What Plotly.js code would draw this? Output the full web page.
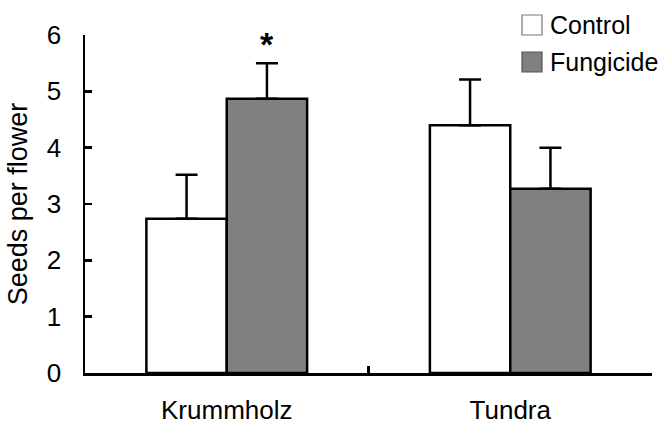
<!DOCTYPE html>
<html>
<head>
<meta charset="utf-8">
<script src="https://cdn.plot.ly/plotly-3.0.1.min.js"></script>
<style>html,body{margin:0;padding:0;background:#fff}#chart{width:665px;height:424px}</style>
</head>
<body>
<div id="chart"></div>
<script>
const sites = ["Krummholz", "Tundra"];
const controlMeans = [2.74, 4.40];
const controlErr = [0.78, 0.81];
const fungicideMeans = [4.87, 3.27];
const fungicideErr = [0.63, 0.73];
const yTicks = [0, 1, 2, 3, 4, 5, 6];
const seriesNames = ["Control", "Fungicide"];
const signifSite = "Krummholz";
const signifLabel = "*";

const FONT = "Liberation Sans, Arial, sans-serif";

const traces = [
  {
    type: "bar", name: seriesNames[0], x: sites, y: controlMeans,
    marker: {color: "#ffffff", line: {color: "#000", width: 2.5}},
    error_y: {type: "data", array: controlErr, arrayminus: controlErr.map(() => 0), symmetric: false,
              color: "#000", thickness: 2.5, width: 11}
  },
  {
    type: "bar", name: seriesNames[1], x: sites, y: fungicideMeans,
    marker: {color: "#808080", line: {color: "#000", width: 2.5}},
    error_y: {type: "data", array: fungicideErr, arrayminus: fungicideErr.map(() => 0), symmetric: false,
              color: "#000", thickness: 2.5, width: 11}
  }
];

const sigIdx = sites.indexOf(signifSite);

const layout = {
  width: 665, height: 424,
  margin: {l: 85, r: 13, t: 35, b: 51, pad: 0},
  paper_bgcolor: "#fff", plot_bgcolor: "#fff",
  barmode: "group", bargap: 0.433, bargroupgap: 0,
  showlegend: false,
  font: {family: FONT, color: "#000"},
  xaxis: {
    type: "category", range: [-0.5, 1.5],
    showline: true, linecolor: "#000", linewidth: 2.5,
    ticks: "inside", tickson: "boundaries", ticklen: 7, tickwidth: 2.5, tickcolor: "#000",
    showgrid: false, zeroline: false,
    tickfont: {size: 26, family: FONT, color: "#000"},
    ticklabelstandoff: 12
  },
  yaxis: {
    range: [0, 6], tickvals: yTicks,
    showline: true, linecolor: "#000", linewidth: 2.5,
    ticks: "inside", ticklen: 7, tickwidth: 2.5, tickcolor: "#000",
    showgrid: false, zeroline: false,
    tickfont: {size: 26, family: FONT, color: "#000"},
    ticklabelstandoff: 16,
    title: {text: "Seeds per flower", font: {size: 27, family: FONT, color: "#000"}, standoff: 12}
  },
  shapes: [
    {type: "rect", xref: "paper", yref: "paper", x0: (522-85)/567, x1: (542-85)/567,
     y0: (373-35)/338, y1: (373-15)/338, fillcolor: "#fff", line: {color: "#777", width: 1.2}},
    {type: "rect", xref: "paper", yref: "paper", x0: (522-85)/567, x1: (542-85)/567,
     y0: (373-72)/338, y1: (373-52)/338, fillcolor: "#808080", line: {color: "#555", width: 1.2}}
  ],
  annotations: [
    {xref: "paper", yref: "paper", x: (548-85)/567, y: (373-25)/338, xanchor: "left", yanchor: "middle",
     text: seriesNames[0], showarrow: false, font: {size: 25, family: FONT, color: "#000"}},
    {xref: "paper", yref: "paper", x: (548-85)/567, y: (373-62)/338, xanchor: "left", yanchor: "middle",
     text: seriesNames[1], showarrow: false, font: {size: 25, family: FONT, color: "#000"}},
    {xref: "x", yref: "y", x: sites[sigIdx], y: fungicideMeans[sigIdx] + fungicideErr[sigIdx],
     xshift: 40, yshift: -2, yanchor: "bottom", text: "<b>" + signifLabel + "</b>", showarrow: false,
     font: {size: 34, family: FONT, color: "#000"}}
  ]
};

Plotly.newPlot("chart", traces, layout, {displayModeBar: false, staticPlot: true});
</script>
</body>
</html>
